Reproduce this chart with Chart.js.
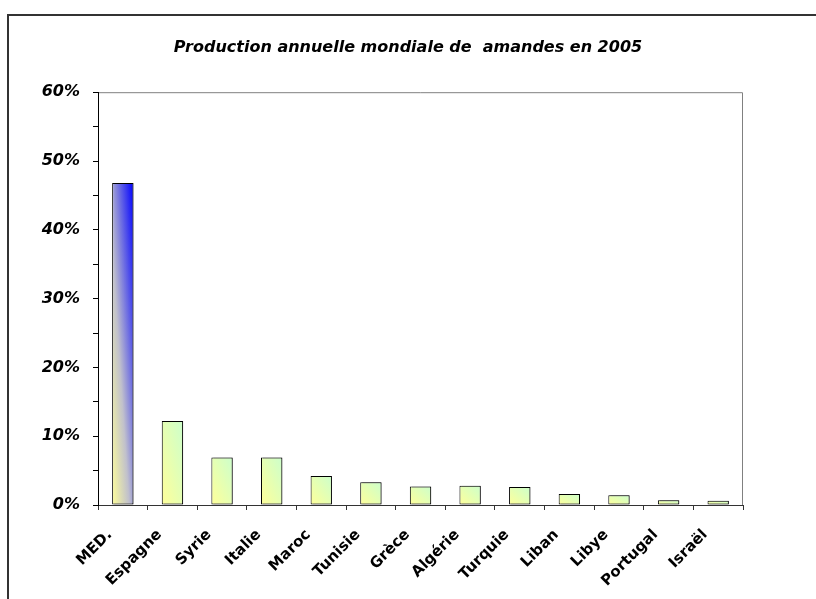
<!DOCTYPE html>
<html>
<head>
<meta charset="utf-8">
<script src="https://cdn.jsdelivr.net/npm/chart.js@4/dist/chart.umd.min.js"></script>
<style>
  html, body { margin: 0; padding: 0; background: #fff; }
  #wrap { width: 816px; height: 599px; }
</style>
</head>
<body>
<div id="wrap"><canvas id="chart" width="816" height="599"></canvas></div>
<script>
// ---------- Données ----------
const titre = 'Production annuelle mondiale de  amandes en 2005';
const pays = ['MED.', 'Espagne', 'Syrie', 'Italie', 'Maroc', 'Tunisie', 'Grèce',
              'Algérie', 'Turquie', 'Liban', 'Libye', 'Portugal', 'Israël'];
const parts = [46.8, 12.2, 6.9, 6.9, 4.2, 3.3, 2.7, 2.8, 2.6, 1.6, 1.4, 0.7, 0.6]; // en %
const yMax = 60;
const yPas = 5;        // petites graduations
const yLabelPas = 10;  // graduations avec texte

const BAR_PCT = 0.43;
const FONT = "'DejaVu Sans', Verdana, sans-serif";

// dégradé diagonal (coin bas-gauche -> coin haut-droit) dans le repère de la barre
function barGradient(ctx) {
  const chart = ctx.chart;
  if (!chart.chartArea || !chart.scales.x) return '#ffff99';
  const xs = chart.scales.x, ys = chart.scales.y;
  const i = ctx.dataIndex;
  const v = parts[i];
  const cx = xs.getPixelForValue(i);
  const w = (xs.width / pays.length) * BAR_PCT;
  const x0 = cx - w / 2;
  const yb = ys.getPixelForValue(0);
  const h = Math.max(yb - ys.getPixelForValue(v), 1);
  const a = 1 / (2 * w), b = -1 / (2 * h);
  const n = a * a + b * b;
  const g = chart.ctx.createLinearGradient(x0, yb, x0 + a / n, yb + b / n);
  if (i === 0) {
    g.addColorStop(0, '#ffff99');
    g.addColorStop(0.4, '#c0c0cc');
    g.addColorStop(1, '#0000ff');
  } else {
    g.addColorStop(0, '#ffff99');
    g.addColorStop(1, '#ccffcc');
  }
  return g;
}

// cadre extérieur + cadre de la zone de tracé + ombre des barres
const cadrePlugin = {
  id: 'cadre',
  beforeDraw(chart) {
    const c = chart.ctx;
    c.save();
    c.strokeStyle = '#333';
    c.lineWidth = 2;
    c.beginPath();
    c.moveTo(8, chart.height);
    c.lineTo(8, 15);
    c.lineTo(chart.width, 15);
    c.stroke();
    const a = chart.chartArea;
    c.strokeStyle = '#808080';
    c.lineWidth = 1;
    c.beginPath();
    c.moveTo(a.left, a.top + 0.5);
    c.lineTo(a.right - 0.5, a.top + 0.5);
    c.lineTo(a.right - 0.5, a.bottom);
    c.stroke();
    c.restore();
  },
  beforeDatasetsDraw(chart) {
    const c = chart.ctx;
    c.save();
    c.shadowColor = 'rgba(0,0,0,0.35)';
    c.shadowOffsetX = 2;
    c.shadowOffsetY = 0;
    c.shadowBlur = 0;
  },
  afterDatasetsDraw(chart) {
    chart.ctx.restore();
  }
};

const ctx = document.getElementById('chart').getContext('2d');
new Chart(ctx, {
  type: 'bar',
  data: {
    labels: pays,
    datasets: [{
      data: parts,
      backgroundColor: barGradient,
      borderColor: '#000',
      borderWidth: 1,
      borderSkipped: false,
      categoryPercentage: 1,
      barPercentage: BAR_PCT
    }]
  },
  options: {
    responsive: false,
    animation: false,
    layout: { padding: { left: 0, right: 0, top: 0, bottom: 0 } },
    plugins: {
      legend: { display: false },
      tooltip: { enabled: false },
      title: {
        display: true,
        text: titre,
        color: '#000',
        font: { family: FONT, size: 16, weight: 'bold', style: 'italic' },
        padding: { top: 38, bottom: 35 }
      }
    },
    scales: {
      x: {
        grid: { display: true, offset: true, drawOnChartArea: false, drawTicks: true,
                tickLength: 5, color: '#333', lineWidth: 1 },
        border: { display: true, color: '#333', width: 1 },
        ticks: {
          color: '#000',
          font: { family: FONT, size: 15, weight: 'bold' },
          minRotation: 45, maxRotation: 45, autoSkip: false,
          padding: 16, labelOffset: -13
        },
        afterFit(scale) { scale.height = 94; }
      },
      y: {
        min: 0, max: yMax,
        grid: { display: true, drawOnChartArea: false, drawTicks: true,
                tickLength: 5, color: '#000', lineWidth: 1 },
        border: { display: true, color: '#000', width: 1 },
        ticks: {
          stepSize: yPas,
          autoSkip: false,
          color: '#000',
          padding: 13,
          font: { family: FONT, size: 16, weight: 'bold', style: 'italic' },
          callback: v => (v % yLabelPas === 0 ? v + '%' : '')
        },
        afterFit(scale) { scale.width = 98; }
      },
      // axe vide à droite : réserve la marge et garde le titre centré sur la page
      y2: {
        position: 'right',
        display: true,
        grid: { display: false },
        border: { display: false },
        ticks: { display: false },
        afterFit(scale) { scale.width = 73; }
      }
    }
  },
  plugins: [cadrePlugin]
});
</script>
</body>
</html>
